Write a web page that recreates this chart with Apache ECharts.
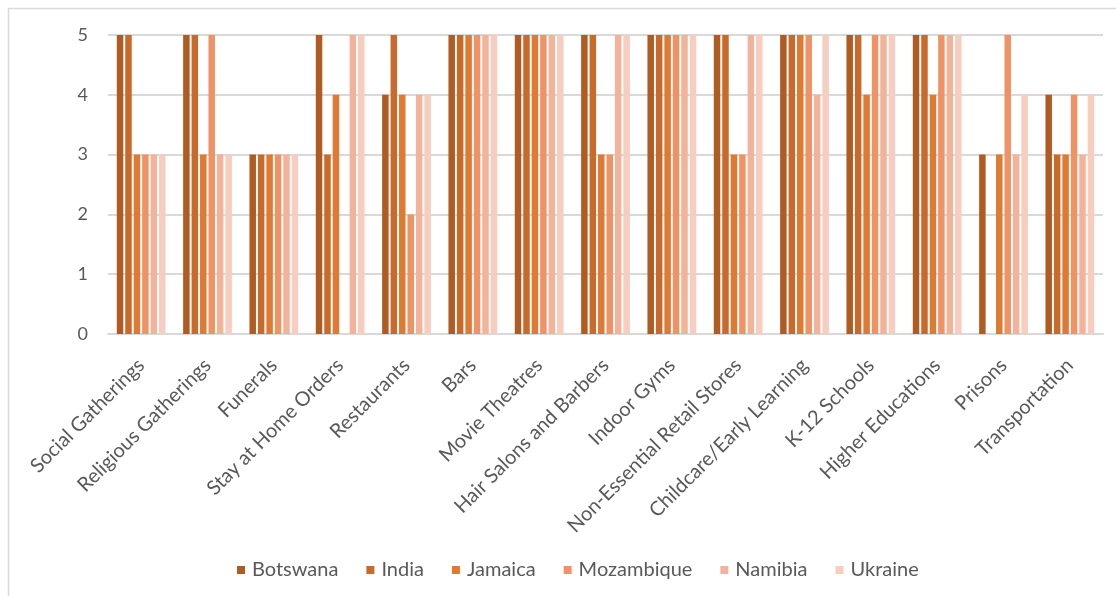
<!DOCTYPE html>
<html>
<head>
<meta charset="utf-8">
<script src="https://cdn.jsdelivr.net/npm/echarts@6/dist/echarts.min.js"></script>
<style>
html,body{margin:0;padding:0;background:#fff;}
#chart{width:1116px;height:596px;}
</style>
</head>
<body>
<div id="chart"></div>
<script>
const categories = ["Social Gatherings","Religious Gatherings","Funerals","Stay at Home Orders","Restaurants","Bars","Movie Theatres","Hair Salons and Barbers","Indoor Gyms","Non-Essential Retail Stores","Childcare/Early Learning","K-12 Schools","Higher Educations","Prisons","Transportation"];
const countries = ["Botswana","India","Jamaica","Mozambique","Namibia","Ukraine"];
const botswana   = [5,5,3,5,4,5,5,5,5,5,5,5,5,3,4];
const india      = [5,5,3,3,5,5,5,5,5,5,5,5,5,0,3];
const jamaica    = [3,3,3,4,4,5,5,3,5,3,5,4,4,3,3];
const mozambique = [3,5,3,0,2,5,5,3,5,3,5,5,5,5,4];
const namibia    = [3,3,3,5,4,5,5,5,5,5,4,5,5,3,3];
const ukraine    = [3,3,3,5,4,5,5,5,5,5,5,5,5,4,4];
const yTicks = [0,1,2,3,4,5];
const colors = ["#B05B22","#C96A2B","#E07931","#EF9367","#F3B39B","#F6CDBF"];

const seriesData = [botswana, india, jamaica, mozambique, namibia, ukraine];
const font = "Lato, 'Open Sans', sans-serif";

const chart = echarts.init(document.getElementById('chart'));
chart.setOption({
  animation: false,
  color: colors,
  graphic: [{
    type: 'rect',
    shape: {x: 8.5, y: 8.5, width: 1300, height: 800},
    style: {fill: 'none', stroke: '#D9D9D9', lineWidth: 1.5},
    silent: true
  }],
  grid: {left: 108, right: 13, top: 35, bottom: 262, containLabel: false},
  legend: {
    data: countries,
    bottom: 11,
    left: 232,
    icon: 'rect',
    itemWidth: 8,
    itemHeight: 8,
    itemGap: 28,
    textStyle: {color: '#595959', fontSize: 20, fontFamily: font, padding: [0, 0, 0, 2]}
  },
  xAxis: {
    type: 'category',
    data: categories,
    axisLine: {lineStyle: {color: '#D9D9D9', width: 2}},
    axisTick: {show: false},
    axisLabel: {rotate: 45, interval: 0, color: '#595959', fontSize: 20, fontFamily: font, margin: 28}
  },
  yAxis: {
    type: 'value',
    min: yTicks[0],
    max: yTicks[yTicks.length - 1],
    interval: 1,
    axisLine: {show: false},
    axisTick: {show: false},
    splitLine: {lineStyle: {color: '#D9D9D9', width: 2}},
    axisLabel: {color: '#595959', fontSize: 18, fontFamily: font, margin: 20}
  },
  series: countries.map((name, i) => ({
    name: name,
    type: 'bar',
    data: seriesData[i],
    barWidth: 6.5,
    barGap: '30%',
    itemStyle: {color: colors[i]}
  }))
});
</script>
</body>
</html>
